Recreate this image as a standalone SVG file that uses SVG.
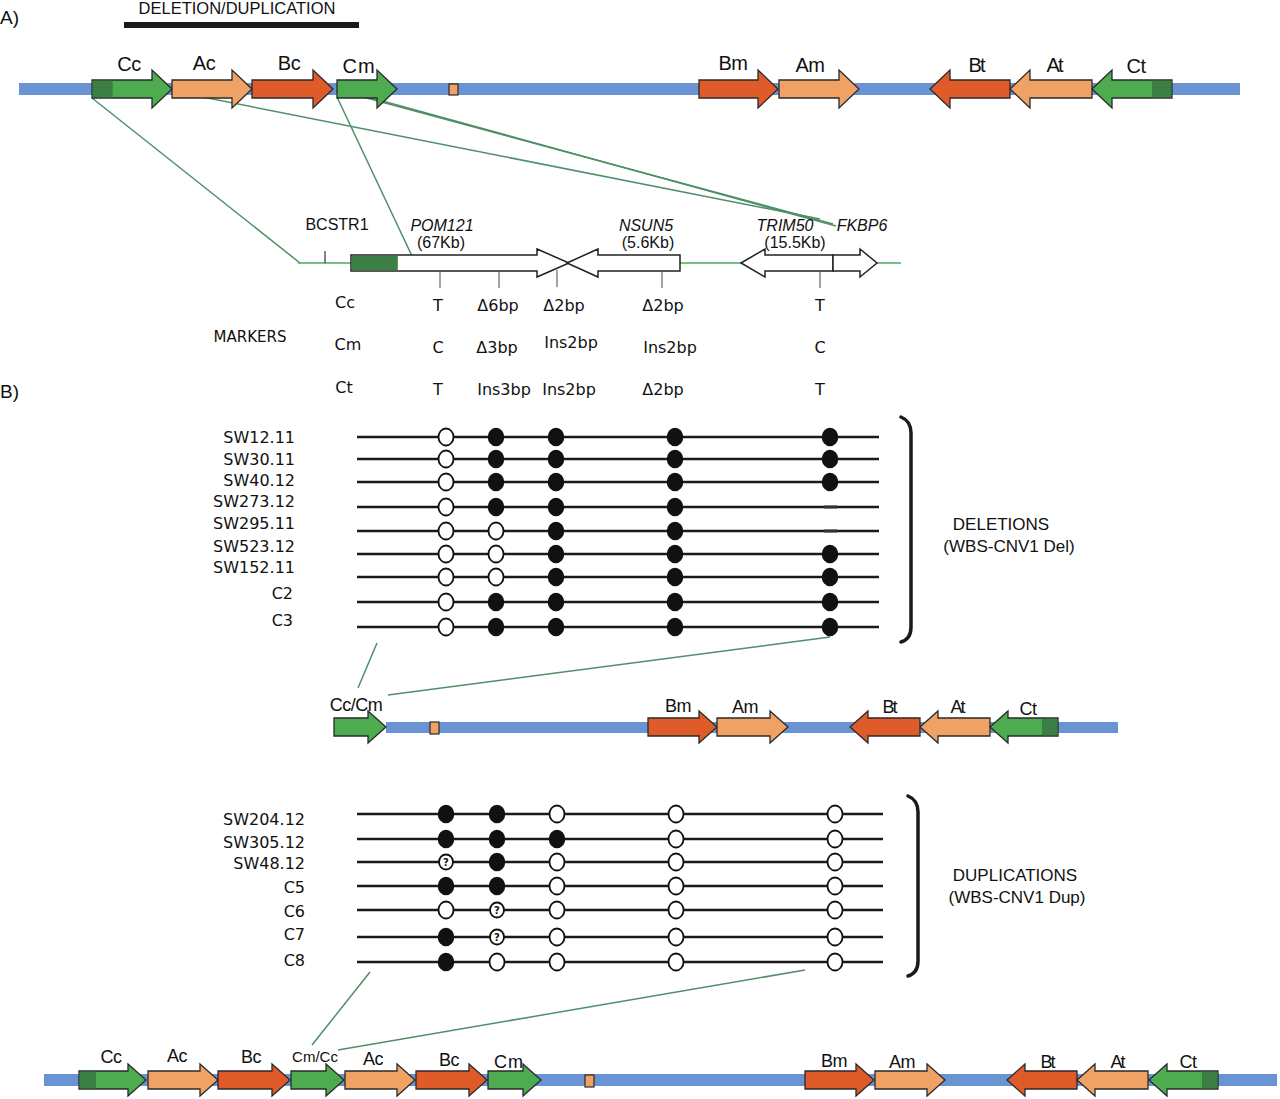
<svg xmlns="http://www.w3.org/2000/svg" width="1280" height="1099" viewBox="0 0 1280 1099">
<style>
.bg{fill:#fff}
.blue{fill:#6a93d3}
.g{fill:#4dab50;stroke:#2a2a2a;stroke-width:1.3}
.dg{fill:#3c7f44}
.o{fill:#f0a264;stroke:#2a2a2a;stroke-width:1.3}
.r{fill:#e05b2a;stroke:#2a2a2a;stroke-width:1.3}
.w{fill:#fff;stroke:#222;stroke-width:1.5}
.gl{font-family:"Liberation Sans",Arial,sans-serif;font-size:20px;fill:#111;text-anchor:middle;letter-spacing:-0.5px}
.gs{font-family:"Liberation Sans",Arial,sans-serif;font-size:18px;fill:#111;text-anchor:middle;letter-spacing:-0.5px}
.t16{font-family:"Liberation Sans",Arial,sans-serif;font-size:16px;fill:#111;text-anchor:middle}
.it{font-style:italic}
.dv{font-family:"DejaVu Sans",Verdana,sans-serif;font-size:16px;fill:#111;text-anchor:middle}
.lab{font-family:"DejaVu Sans",Verdana,sans-serif;font-size:16px;fill:#111;text-anchor:end}
.big{font-family:"Liberation Sans",Arial,sans-serif;font-size:17px;fill:#111;text-anchor:middle}
.conn{stroke:#4f8f68;stroke-width:1.5;fill:none}
.row{stroke:#1a1a1a;stroke-width:2.5}
.tick{stroke:#666;stroke-width:1.2}
.f{fill:#111;stroke:#111;stroke-width:1.5}
.e{fill:#fff;stroke:#111;stroke-width:1.8}
.q{font-family:"DejaVu Sans",sans-serif;font-size:10px;font-weight:bold;fill:#111;text-anchor:middle}
.br{fill:none;stroke:#1a1a1a;stroke-width:3.5;stroke-linecap:round}
</style>
<rect class="bg" x="0" y="0" width="1280" height="1099"/>

<!-- Panel labels -->
<text x="0" y="24" style="font-family:'Liberation Sans',Arial,sans-serif;font-size:19px;fill:#111">A)</text>
<text x="0" y="398" style="font-family:'Liberation Sans',Arial,sans-serif;font-size:19px;fill:#111">B)</text>
<text x="237" y="14" style="font-family:'Liberation Sans',Arial,sans-serif;font-size:16.5px;fill:#111;text-anchor:middle">DELETION/DUPLICATION</text>
<rect x="124" y="22" width="235" height="6" fill="#1a1a1a"/>

<!-- Connectors -->
<g id="connectors">
<line class="conn" x1="92" y1="98" x2="300" y2="263"/>
<line class="conn" x1="172" y1="91" x2="820" y2="219"/>
<line class="conn" x1="363" y1="97" x2="833" y2="224"/>
<line class="conn" x1="368" y1="97" x2="836" y2="226"/>
<line class="conn" x1="337" y1="97" x2="412" y2="256"/>
<line class="conn" x1="377" y1="643" x2="358" y2="688"/>
<line class="conn" x1="830" y1="637" x2="388" y2="695"/>
<line class="conn" x1="370" y1="972" x2="312" y2="1045"/>
<line class="conn" x1="805" y1="970" x2="338" y2="1050"/>
</g>

<!-- Top track -->
<g id="track-top">
<rect class="blue" x="19" y="83" width="1221" height="12"/>
<rect x="449" y="84" width="9" height="11" fill="#f0a264" stroke="#2a2a2a" stroke-width="1.2"/>
<g id="top-Cc"><polygon class="g" points="92,80 152,80 152,70 172,89 152,108 152,98 92,98"/><rect class="dg" x="92.7" y="80.7" width="20" height="16.6"/><text class="gl" x="129" y="71">Cc</text></g>
<g id="top-Ac"><polygon class="o" points="172,80 232,80 232,70 252,89 232,108 232,98 172,98"/><text class="gl" x="204" y="70">Ac</text></g>
<g id="top-Bc"><polygon class="r" points="252,80 313,80 313,70 333,89 313,108 313,98 252,98"/><text class="gl" x="289" y="70">Bc</text></g>
<g id="top-Cm"><polygon class="g" points="337,80 377,80 377,70 397,89 377,108 377,98 337,98"/><text class="gl" x="359" y="73" style="letter-spacing:1px">Cm</text></g>
<g id="top-Bm"><polygon class="r" points="699,80 758,80 758,70 778,89 758,108 758,98 699,98"/><text class="gl" x="733" y="70">Bm</text></g>
<g id="top-Am"><polygon class="o" points="779,80 839,80 839,70 859,89 839,108 839,98 779,98"/><text class="gl" x="810" y="72">Am</text></g>
<g id="top-Bt"><polygon class="r" points="930,89 950,70 950,80 1010,80 1010,98 950,98 950,108"/><text class="gl" x="976" y="72" style="letter-spacing:-2px">Bt</text></g>
<g id="top-At"><polygon class="o" points="1010,89 1030,70 1030,80 1092,80 1092,98 1030,98 1030,108"/><text class="gl" x="1054" y="72" style="letter-spacing:-2px">At</text></g>
<g id="top-Ct"><polygon class="g" points="1092,89 1112,70 1112,80 1172,80 1172,98 1112,98 1112,108"/><rect class="dg" x="1152" y="80.7" width="19.3" height="16.6"/><text class="gl" x="1136" y="73">Ct</text></g>
</g>

<!-- Gene detail -->
<g id="gene-detail">
<line x1="298" y1="263" x2="901" y2="263" stroke="#4dab50" stroke-width="1.5"/>
<line x1="325" y1="251" x2="325" y2="263" stroke="#333" stroke-width="1.2"/>
<text class="t16" x="337" y="230">BCSTR1</text>
<g id="POM121"><polygon class="w" points="351,255 537,255 537,249 569,263 537,277 537,271 351,271"/><rect class="dg" x="351.8" y="255.8" width="46" height="14.4"/><text class="t16 it" x="442" y="231">POM121</text><text class="t16" x="441" y="248">(67Kb)</text></g>
<g id="NSUN5"><polygon class="w" points="567,263 598,249 598,255 680,255 680,271 598,271 598,277"/><text class="t16 it" x="646" y="231">NSUN5</text><text class="t16" x="648" y="248">(5.6Kb)</text></g>
<g id="TRIM50"><polygon class="w" points="741,263 765,249 765,255 833,255 833,271 765,271 765,277"/><text class="t16 it" x="785" y="231">TRIM50</text><text class="t16" x="795" y="248">(15.5Kb)</text></g>
<g id="FKBP6"><polygon class="w" points="833,255 860,255 860,249 877,263 860,277 860,271 833,271"/><text class="t16 it" x="862" y="231">FKBP6</text></g>
<line class="tick" x1="440" y1="272" x2="440" y2="288"/>
<line class="tick" x1="499" y1="272" x2="499" y2="288"/>
<line class="tick" x1="557" y1="270" x2="557" y2="287"/>
<line class="tick" x1="662" y1="272" x2="662" y2="288"/>
<line class="tick" x1="820" y1="272" x2="820" y2="288"/>
</g>

<!-- Markers -->
<g id="markers">
<text class="dv" x="250" y="342" style="font-size:15px">MARKERS</text>
<text class="dv" x="345" y="308">Cc</text>
<text class="dv" x="438" y="311">T</text>
<text class="dv" x="498" y="311">Δ6bp</text>
<text class="dv" x="564" y="311">Δ2bp</text>
<text class="dv" x="663" y="311">Δ2bp</text>
<text class="dv" x="820" y="311">T</text>
<text class="dv" x="348" y="350">Cm</text>
<text class="dv" x="438" y="353">C</text>
<text class="dv" x="497" y="353">Δ3bp</text>
<text class="dv" x="571" y="348">Ins2bp</text>
<text class="dv" x="670" y="353">Ins2bp</text>
<text class="dv" x="820" y="353">C</text>
<text class="dv" x="344" y="393">Ct</text>
<text class="dv" x="438" y="395">T</text>
<text class="dv" x="504" y="395">Ins3bp</text>
<text class="dv" x="569" y="395">Ins2bp</text>
<text class="dv" x="663" y="395">Δ2bp</text>
<text class="dv" x="820" y="395">T</text>
</g>

<!-- Deletions panel -->
<g id="deletions">
<g class="rows">
<line class="row" x1="357" y1="437" x2="879" y2="437"/>
<line class="row" x1="357" y1="459" x2="879" y2="459"/>
<line class="row" x1="357" y1="482" x2="879" y2="482"/>
<line class="row" x1="357" y1="507" x2="879" y2="507"/>
<line class="row" x1="357" y1="531" x2="879" y2="531"/>
<line class="row" x1="357" y1="554" x2="879" y2="554"/>
<line class="row" x1="357" y1="577" x2="879" y2="577"/>
<line class="row" x1="357" y1="602" x2="879" y2="602"/>
<line class="row" x1="357" y1="627" x2="879" y2="627"/>
</g>
<text class="lab" x="295" y="443">SW12.11</text>
<text class="lab" x="295" y="465">SW30.11</text>
<text class="lab" x="295" y="486">SW40.12</text>
<text class="lab" x="295" y="507">SW273.12</text>
<text class="lab" x="295" y="529">SW295.11</text>
<text class="lab" x="295" y="552">SW523.12</text>
<text class="lab" x="295" y="573">SW152.11</text>
<text class="lab" x="293" y="599">C2</text>
<text class="lab" x="293" y="626">C3</text>
<!-- row 1 -->
<ellipse class="e" cx="446" cy="437" rx="7.5" ry="8.5"/><ellipse class="f" cx="496" cy="437" rx="7.5" ry="8.5"/><ellipse class="f" cx="556" cy="437" rx="7.5" ry="8.5"/><ellipse class="f" cx="675" cy="437" rx="7.5" ry="8.5"/><ellipse class="f" cx="830" cy="437" rx="7.5" ry="8.5"/>
<ellipse class="e" cx="446" cy="459" rx="7.5" ry="8.5"/><ellipse class="f" cx="496" cy="459" rx="7.5" ry="8.5"/><ellipse class="f" cx="556" cy="459" rx="7.5" ry="8.5"/><ellipse class="f" cx="675" cy="459" rx="7.5" ry="8.5"/><ellipse class="f" cx="830" cy="459" rx="7.5" ry="8.5"/>
<ellipse class="e" cx="446" cy="482" rx="7.5" ry="8.5"/><ellipse class="f" cx="496" cy="482" rx="7.5" ry="8.5"/><ellipse class="f" cx="556" cy="482" rx="7.5" ry="8.5"/><ellipse class="f" cx="675" cy="482" rx="7.5" ry="8.5"/><ellipse class="f" cx="830" cy="482" rx="7.5" ry="8.5"/>
<ellipse class="e" cx="446" cy="507" rx="7.5" ry="8.5"/><ellipse class="f" cx="496" cy="507" rx="7.5" ry="8.5"/><ellipse class="f" cx="556" cy="507" rx="7.5" ry="8.5"/><ellipse class="f" cx="675" cy="507" rx="7.5" ry="8.5"/><rect x="824" y="505.5" width="13" height="3" fill="#333"/>
<ellipse class="e" cx="446" cy="531" rx="7.5" ry="8.5"/><ellipse class="e" cx="496" cy="531" rx="7.5" ry="8.5"/><ellipse class="f" cx="556" cy="531" rx="7.5" ry="8.5"/><ellipse class="f" cx="675" cy="531" rx="7.5" ry="8.5"/><rect x="824" y="529.5" width="13" height="3" fill="#333"/>
<ellipse class="e" cx="446" cy="554" rx="7.5" ry="8.5"/><ellipse class="e" cx="496" cy="554" rx="7.5" ry="8.5"/><ellipse class="f" cx="556" cy="554" rx="7.5" ry="8.5"/><ellipse class="f" cx="675" cy="554" rx="7.5" ry="8.5"/><ellipse class="f" cx="830" cy="554" rx="7.5" ry="8.5"/>
<ellipse class="e" cx="446" cy="577" rx="7.5" ry="8.5"/><ellipse class="e" cx="496" cy="577" rx="7.5" ry="8.5"/><ellipse class="f" cx="556" cy="577" rx="7.5" ry="8.5"/><ellipse class="f" cx="675" cy="577" rx="7.5" ry="8.5"/><ellipse class="f" cx="830" cy="577" rx="7.5" ry="8.5"/>
<ellipse class="e" cx="446" cy="602" rx="7.5" ry="8.5"/><ellipse class="f" cx="496" cy="602" rx="7.5" ry="8.5"/><ellipse class="f" cx="556" cy="602" rx="7.5" ry="8.5"/><ellipse class="f" cx="675" cy="602" rx="7.5" ry="8.5"/><ellipse class="f" cx="830" cy="602" rx="7.5" ry="8.5"/>
<ellipse class="e" cx="446" cy="627" rx="7.5" ry="8.5"/><ellipse class="f" cx="496" cy="627" rx="7.5" ry="8.5"/><ellipse class="f" cx="556" cy="627" rx="7.5" ry="8.5"/><ellipse class="f" cx="675" cy="627" rx="7.5" ry="8.5"/><ellipse class="f" cx="830" cy="627" rx="7.5" ry="8.5"/>
<path class="br" d="M901 417 Q911 421 911 433 L911 627 Q911 639 901 642"/>
<text class="big" x="1001" y="530">DELETIONS</text>
<text class="big" x="1009" y="552">(WBS-CNV1 Del)</text>
</g>

<!-- Middle track -->
<g id="track-mid">
<rect class="blue" x="386" y="722" width="732" height="11"/>
<rect x="430" y="722" width="9" height="12" fill="#f0a264" stroke="#2a2a2a" stroke-width="1.2"/>
<g id="mid-CcCm"><polygon class="g" points="334,718 368,718 368,711 386,727 368,743 368,736 334,736"/><text class="gs" x="356" y="711">Cc/Cm</text></g>
<g id="mid-Bm"><polygon class="r" points="648,718 699,718 699,711 717,727 699,743 699,736 648,736"/><text class="gs" x="678" y="712">Bm</text></g>
<g id="mid-Am"><polygon class="o" points="717,718 770,718 770,711 788,727 770,743 770,736 717,736"/><text class="gs" x="745" y="713">Am</text></g>
<g id="mid-Bt"><polygon class="r" points="850,727 868,711 868,718 920,718 920,736 868,736 868,743"/><text class="gs" x="889" y="713" style="letter-spacing:-2px">Bt</text></g>
<g id="mid-At"><polygon class="o" points="920,727 938,711 938,718 990,718 990,736 938,736 938,743"/><text class="gs" x="957" y="713" style="letter-spacing:-2px">At</text></g>
<g id="mid-Ct"><polygon class="g" points="990,727 1008,711 1008,718 1058,718 1058,736 1008,736 1008,743"/><rect class="dg" x="1042" y="718.7" width="15.3" height="16.6"/><text class="gs" x="1028" y="715">Ct</text></g>
</g>

<!-- Duplications panel -->
<g id="duplications">
<g class="rows">
<line class="row" x1="357" y1="814" x2="883" y2="814"/>
<line class="row" x1="357" y1="839" x2="883" y2="839"/>
<line class="row" x1="357" y1="862" x2="883" y2="862"/>
<line class="row" x1="357" y1="886" x2="883" y2="886"/>
<line class="row" x1="357" y1="910" x2="883" y2="910"/>
<line class="row" x1="357" y1="937" x2="883" y2="937"/>
<line class="row" x1="357" y1="962" x2="883" y2="962"/>
</g>
<text class="lab" x="305" y="825">SW204.12</text>
<text class="lab" x="305" y="848">SW305.12</text>
<text class="lab" x="305" y="869">SW48.12</text>
<text class="lab" x="305" y="893">C5</text>
<text class="lab" x="305" y="917">C6</text>
<text class="lab" x="305" y="940">C7</text>
<text class="lab" x="305" y="966">C8</text>
<ellipse class="f" cx="446" cy="814" rx="7.5" ry="8.5"/><ellipse class="f" cx="497" cy="814" rx="7.5" ry="8.5"/><ellipse class="e" cx="557" cy="814" rx="7.5" ry="8.5"/><ellipse class="e" cx="676" cy="814" rx="7.5" ry="8.5"/><ellipse class="e" cx="835" cy="814" rx="7.5" ry="8.5"/>
<ellipse class="f" cx="446" cy="839" rx="7.5" ry="8.5"/><ellipse class="f" cx="497" cy="839" rx="7.5" ry="8.5"/><ellipse class="f" cx="557" cy="839" rx="7.5" ry="8.5"/><ellipse class="e" cx="676" cy="839" rx="7.5" ry="8.5"/><ellipse class="e" cx="835" cy="839" rx="7.5" ry="8.5"/>
<ellipse class="e" cx="446" cy="862" rx="7" ry="7.5"/><text class="q" x="446" y="866">?</text><ellipse class="f" cx="497" cy="862" rx="7.5" ry="8.5"/><ellipse class="e" cx="557" cy="862" rx="7.5" ry="8.5"/><ellipse class="e" cx="676" cy="862" rx="7.5" ry="8.5"/><ellipse class="e" cx="835" cy="862" rx="7.5" ry="8.5"/>
<ellipse class="f" cx="446" cy="886" rx="7.5" ry="8.5"/><ellipse class="f" cx="497" cy="886" rx="7.5" ry="8.5"/><ellipse class="e" cx="557" cy="886" rx="7.5" ry="8.5"/><ellipse class="e" cx="676" cy="886" rx="7.5" ry="8.5"/><ellipse class="e" cx="835" cy="886" rx="7.5" ry="8.5"/>
<ellipse class="e" cx="446" cy="910" rx="7.5" ry="8.5"/><ellipse class="e" cx="497" cy="910" rx="7" ry="7.5"/><text class="q" x="497" y="914">?</text><ellipse class="e" cx="557" cy="910" rx="7.5" ry="8.5"/><ellipse class="e" cx="676" cy="910" rx="7.5" ry="8.5"/><ellipse class="e" cx="835" cy="910" rx="7.5" ry="8.5"/>
<ellipse class="f" cx="446" cy="937" rx="7.5" ry="8.5"/><ellipse class="e" cx="497" cy="937" rx="7" ry="7.5"/><text class="q" x="497" y="941">?</text><ellipse class="e" cx="557" cy="937" rx="7.5" ry="8.5"/><ellipse class="e" cx="676" cy="937" rx="7.5" ry="8.5"/><ellipse class="e" cx="835" cy="937" rx="7.5" ry="8.5"/>
<ellipse class="f" cx="446" cy="962" rx="7.5" ry="8.5"/><ellipse class="e" cx="497" cy="962" rx="7.5" ry="8.5"/><ellipse class="e" cx="557" cy="962" rx="7.5" ry="8.5"/><ellipse class="e" cx="676" cy="962" rx="7.5" ry="8.5"/><ellipse class="e" cx="835" cy="962" rx="7.5" ry="8.5"/>
<path class="br" d="M908 796 Q918 800 918 812 L918 961 Q918 973 908 976"/>
<text class="big" x="1015" y="881">DUPLICATIONS</text>
<text class="big" x="1017" y="903">(WBS-CNV1 Dup)</text>
</g>

<!-- Bottom track -->
<g id="track-bottom">
<rect class="blue" x="44" y="1074" width="1233" height="12"/>
<rect x="585" y="1075" width="9" height="12" fill="#f0a264" stroke="#2a2a2a" stroke-width="1.2"/>
<g id="bot-Cc"><polygon class="g" points="79,1071 128,1071 128,1064 146,1080 128,1096 128,1089 79,1089"/><rect class="dg" x="79.7" y="1071.7" width="16.3" height="16.6"/><text class="gs" x="111" y="1063">Cc</text></g>
<g id="bot-Ac1"><polygon class="o" points="148,1071 200,1071 200,1064 218,1080 200,1096 200,1089 148,1089"/><text class="gs" x="177" y="1062">Ac</text></g>
<g id="bot-Bc1"><polygon class="r" points="218,1071 272,1071 272,1064 290,1080 272,1096 272,1089 218,1089"/><text class="gs" x="251" y="1063">Bc</text></g>
<g id="bot-CmCc"><polygon class="g" points="291,1071 326,1071 326,1064 344,1080 326,1096 326,1089 291,1089"/><text class="gs" x="315" y="1062" style="font-size:15px;letter-spacing:0">Cm/Cc</text></g>
<g id="bot-Ac2"><polygon class="o" points="345,1071 397,1071 397,1064 415,1080 397,1096 397,1089 345,1089"/><text class="gs" x="373" y="1065">Ac</text></g>
<g id="bot-Bc2"><polygon class="r" points="416,1071 469,1071 469,1064 487,1080 469,1096 469,1089 416,1089"/><text class="gs" x="449" y="1066">Bc</text></g>
<g id="bot-Cm"><polygon class="g" points="488,1071 523,1071 523,1064 541,1080 523,1096 523,1089 488,1089"/><text class="gs" x="509" y="1068" style="letter-spacing:1px">Cm</text></g>
<g id="bot-Bm"><polygon class="r" points="805,1071 856,1071 856,1064 874,1080 856,1096 856,1089 805,1089"/><text class="gs" x="834" y="1067">Bm</text></g>
<g id="bot-Am"><polygon class="o" points="875,1071 927,1071 927,1064 945,1080 927,1096 927,1089 875,1089"/><text class="gs" x="902" y="1068">Am</text></g>
<g id="bot-Bt"><polygon class="r" points="1007,1080 1025,1064 1025,1071 1077,1071 1077,1089 1025,1089 1025,1096"/><text class="gs" x="1047" y="1068" style="letter-spacing:-2px">Bt</text></g>
<g id="bot-At"><polygon class="o" points="1077,1080 1095,1064 1095,1071 1148,1071 1148,1089 1095,1089 1095,1096"/><text class="gs" x="1117" y="1068" style="letter-spacing:-2px">At</text></g>
<g id="bot-Ct"><polygon class="g" points="1149,1080 1167,1064 1167,1071 1218,1071 1218,1089 1167,1089 1167,1096"/><rect class="dg" x="1202" y="1071.7" width="15.3" height="16.6"/><text class="gs" x="1188" y="1068">Ct</text></g>
</g>
</svg>
